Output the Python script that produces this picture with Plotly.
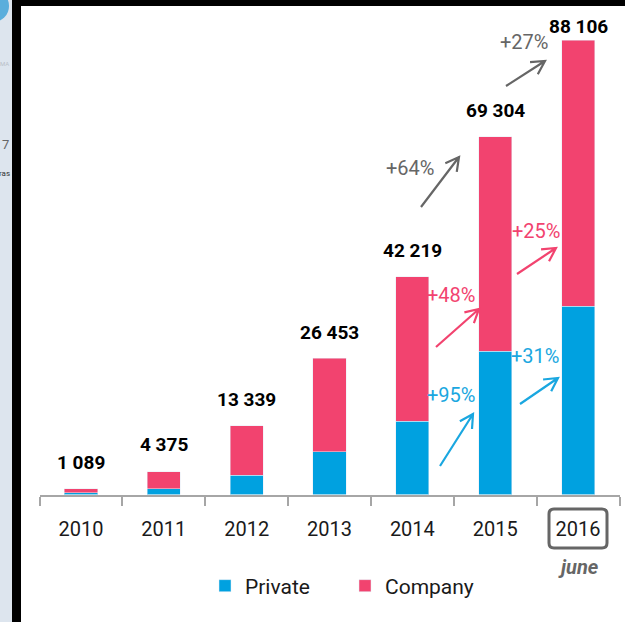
import math
import plotly.graph_objects as go

years = ["2010", "2011", "2012", "2013", "2014", "2015", "2016"]
totals = [1089, 4375, 13339, 26453, 42219, 69304, 88106]
private = [300, 1070, 3780, 8240, 14200, 27800, 36500]
company = [t - p for t, p in zip(totals, private)]
total_labels = ["1 089", "4 375", "13 339", "26 453", "42 219", "69 304", "88 106"]
label_shift = [26, 27, 26, 26, 26, 26, 14]

W, H = 625, 622
BLUE, PINK, GRAY, SKY = "#00a1e0", "#f2436f", "#666666", "#1aa7e0"
FONT = "Roboto"
px = lambda x: x / W
py = lambda y: 1 - y / H


def rect(x0, y0, x1, y1, color):
    return dict(type="rect", xref="paper", yref="paper", x0=px(x0), x1=px(x1),
                y0=py(y1), y1=py(y0), fillcolor=color, line_width=0, layer="below")


def arrow(x0, y0, x1, y1, color, head=15, spread=0.5):
    a = math.atan2(y1 - y0, x1 - x0)
    h1 = (x1 - head * math.cos(a - spread), y1 - head * math.sin(a - spread))
    h2 = (x1 - head * math.cos(a + spread), y1 - head * math.sin(a + spread))
    p = lambda q: f"{px(q[0]):.5f},{py(q[1]):.5f}"
    path = f"M{p((x0, y0))}L{p((x1, y1))}M{p(h1)}L{p((x1, y1))}L{p(h2)}"
    return dict(type="path", xref="paper", yref="paper", path=path,
                line=dict(color=color, width=2.2))


def note(x, y, text, color, size=20, **kw):
    return dict(xref="paper", yref="paper", x=px(x), y=py(y), text=text, showarrow=False,
                xanchor=kw.pop("xanchor", "center"), yanchor="middle",
                font=dict(family=FONT, size=size, color=color), **kw)


fig = go.Figure()
fig.add_bar(x=years, y=private, name="Private", marker_color=BLUE, width=0.4)
fig.add_bar(x=years, y=company, name="Company", marker_color=PINK, width=0.4)

shapes = [
    rect(0, 0, 12, H, "#dde5ee"),
    rect(12, 0, 21, H, "#000000"),
    rect(12, 0, W, 6, "#000000"),
    dict(type="circle", xref="paper", yref="paper", x0=px(-22), x1=px(9), y0=py(22), y1=py(-10),
         fillcolor="#5aaedc", line_width=0, layer="below"),
    arrow(421, 207, 459, 157, GRAY),
    arrow(506, 86, 545, 61, GRAY),
    arrow(436, 347, 479, 309, PINK),
    arrow(517, 274, 556, 248, PINK),
    arrow(440, 466, 473, 414, SKY),
    arrow(520, 404, 558, 378, SKY),
    dict(type="path", xref="paper", yref="paper",
         path=f"M{px(554)},{py(509)}L{px(602)},{py(509)}Q{px(607)},{py(509)} {px(607)},{py(514)}"
              f"L{px(607)},{py(543)}Q{px(607)},{py(548)} {px(602)},{py(548)}"
              f"L{px(554)},{py(548)}Q{px(549)},{py(548)} {px(549)},{py(543)}"
              f"L{px(549)},{py(514)}Q{px(549)},{py(509)} {px(554)},{py(509)}Z",
         line=dict(color=GRAY, width=3)),
]

annotations = [
    dict(x=i, y=t, xref="x", yref="y", text=f"<b>{lab}</b>", showarrow=False, yshift=s,
         xanchor="center", yanchor="middle", font=dict(family=FONT, size=19, color="#000000"))
    for i, (t, lab, s) in enumerate(zip(totals, total_labels, label_shift))
]
annotations += [
    note(524, 42, "+27%", GRAY),
    note(410, 168, "+64%", GRAY),
    note(536, 231, "+25%", PINK),
    note(451, 295, "+48%", PINK),
    note(451, 395, "+95%", SKY),
    note(535, 356, "+31%", SKY),
    note(578, 567, "<b><i>june</i></b>", GRAY, size=20),
    note(12, 173, "ras", "#333333", size=8, xanchor="right"),
    note(6, 144, "7", "#666666", size=13),
    note(11, 64, "MA", "#b8c0c8", size=6, xanchor="right"),
]

fig.update_layout(
    width=W, height=H, margin=dict(l=0, r=0, t=0, b=0, pad=0, autoexpand=False),
    paper_bgcolor="#ffffff", plot_bgcolor="rgba(0,0,0,0)", barmode="stack",
    font=dict(family=FONT, color="#1a1a1a"),
    shapes=shapes, annotations=annotations,
    legend=dict(orientation="h", x=px(205), y=py(586), xanchor="left", yanchor="middle",
                traceorder="normal",
                font=dict(family=FONT, size=21, color="#1a1a1a"), bgcolor="rgba(0,0,0,0)",
                entrywidth=95, entrywidthmode="pixels", itemclick=False, itemdoubleclick=False),
    xaxis=dict(domain=[px(39.5), px(619.5)], type="category", range=[-0.5, 6.5],
               tickson="boundaries", ticks="outside", ticklen=9, tickcolor="#a6a6a6", tickwidth=1.5,
               showline=True, linecolor="#a6a6a6", linewidth=2, showgrid=False,
               tickfont=dict(family=FONT, size=20, color="#1a1a1a"), ticklabelstandoff=15,
               anchor="y"),
    yaxis=dict(domain=[py(494.5), 1], range=[0, 494.5 / 454.5 * 88106], showticklabels=False,
               showgrid=False, zeroline=False, showline=False, ticks=""),
)

fig.write_html("out.html", config={"displayModeBar": False},
               post_script="document.body.style.margin='0';")
